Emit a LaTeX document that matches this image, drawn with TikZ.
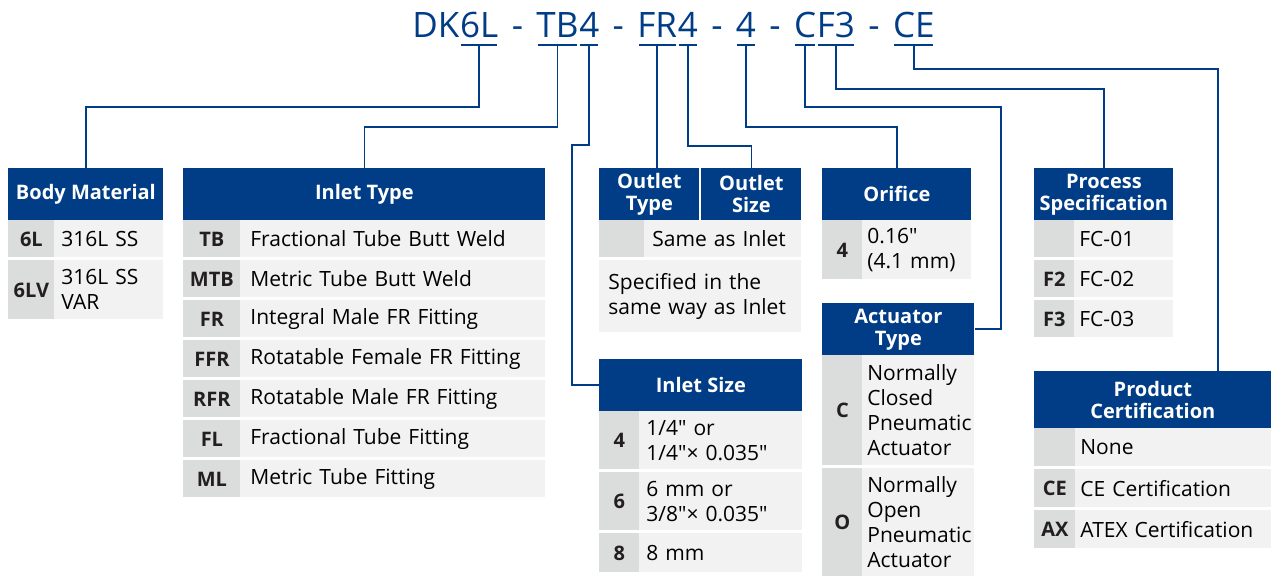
\documentclass[tikz,border=0pt]{standalone}
\usepackage{fontspec}
\setmainfont{Open Sans}[Ligatures=TeXOff]
\usetikzlibrary{positioning}
\hyphenpenalty=10000
\definecolor{PNblue}{RGB}{0,61,134}
\definecolor{KeyGray}{RGB}{219,220,220}
\definecolor{ValGray}{RGB}{242,242,242}
\definecolor{KeyText}{RGB}{35,31,32}
\tikzset{
  seg/.style={text=PNblue,font=\fontsize{17.5}{20}\selectfont,inner xsep=0pt,
              inner ysep=3.5pt,text height=12.5pt,text depth=0pt},
  uline/.style={PNblue,line width=1pt,shorten <=0.8pt,shorten >=0.8pt},
  conn/.style={PNblue,line width=0.9pt},
  hd/.style={fill=PNblue,text=white,font=\bfseries\fontsize{10}{11}\selectfont,
             align=center,anchor=north west,inner sep=0pt,minimum height=26pt},
  key/.style={fill=KeyGray,text=KeyText,font=\bfseries\fontsize{10}{12}\selectfont,
              anchor=north west,inner sep=0pt,minimum width=20pt},
  val/.style={fill=ValGray,text=black,font=\fontsize{10.5}{12.5}\selectfont,
              align=left,anchor=north west,inner ysep=0pt,inner xsep=2.5pt},
}
\begin{document}
\begin{tikzpicture}[x=0.5pt,y=-0.5pt]
  \fill[white] (0,0) rectangle (1271,576);
  \useasboundingbox (0,0) rectangle (1271,576);
  % ordering code
  \node[seg,anchor=base west] (sDK) at (412,38) {DK};
  \node[seg,base right=0pt of sDK] (s6L) {6L};
  \node[seg,base right=6.3pt of s6L] (d1) {-};
  \node[seg,base right=6.3pt of d1] (sTB) {TB};
  \node[seg,base right=0pt of sTB] (s4a) {4};
  \node[seg,base right=6.3pt of s4a] (d2) {-};
  \node[seg,base right=6.3pt of d2] (sFR) {FR};
  \node[seg,base right=0pt of sFR] (s4b) {4};
  \node[seg,base right=6.3pt of s4b] (d3) {-};
  \node[seg,base right=6.3pt of d3] (s4c) {4};
  \node[seg,base right=6.3pt of s4c] (d4) {-};
  \node[seg,base right=6.3pt of d4] (sC) {C};
  \node[seg,base right=0pt of sC] (sF3) {F3};
  \node[seg,base right=6.3pt of sF3] (d5) {-};
  \node[seg,base right=6.3pt of d5] (sCE) {CE};
  \foreach \s in {s6L,sTB,s4a,sFR,s4b,s4c,sC,sF3,sCE}
    \draw[uline] (\s.south west) -- (\s.south east);

  % body material
  \node[hd,minimum width=77.5pt] (hBody) at (8,168) {Body Material};
  \node[key,minimum width=23pt,minimum height=18.5pt] (k6L) at (8,220) {6L};
  \node[val,text width=47.5pt,inner xsep=3.5pt,minimum height=18.5pt] (v6L) at (54,220) {316L SS};
  \node[key,minimum width=23pt,minimum height=29.5pt] (k6LV) at (8,260) {6LV};
  \node[val,text width=47.5pt,inner xsep=3.5pt,minimum height=29.5pt] (v6LV) at (54,260) {316L SS\\VAR};

  % inlet type
  \node[hd,minimum width=181pt] (hInlet) at (183,168) {Inlet Type};
  \node[key,minimum width=28.5pt,minimum height=18.5pt] (kTB) at (183,220) {TB};
  \node[val,text width=142.5pt,inner xsep=5pt,minimum height=18.5pt] (vTB) at (240,220) {Fractional Tube Butt Weld};
  \node[key,minimum width=28.5pt,minimum height=18.5pt] (kMTB) at (183,260) {MTB};
  \node[val,text width=142.5pt,inner xsep=5pt,minimum height=18.5pt] (vMTB) at (240,260) {Metric Tube Butt Weld};
  \node[key,minimum width=28.5pt,minimum height=18.5pt] (kFR) at (183,300) {FR};
  \node[val,text width=142.5pt,inner xsep=5pt,minimum height=18.5pt] (vFR) at (240,300) {Integral Male FR Fitting};
  \node[key,minimum width=28.5pt,minimum height=18.5pt] (kFFR) at (183,340) {FFR};
  \node[val,text width=142.5pt,inner xsep=5pt,minimum height=18.5pt] (vFFR) at (240,340) {Rotatable Female FR Fitting};
  \node[key,minimum width=28.5pt,minimum height=18.5pt] (kRFR) at (183,380) {RFR};
  \node[val,text width=142.5pt,inner xsep=5pt,minimum height=18.5pt] (vRFR) at (240,380) {Rotatable Male FR Fitting};
  \node[key,minimum width=28.5pt,minimum height=18.5pt] (kFL) at (183,420) {FL};
  \node[val,text width=142.5pt,inner xsep=5pt,minimum height=18.5pt] (vFL) at (240,420) {Fractional Tube Fitting};
  \node[key,minimum width=28.5pt,minimum height=18.5pt] (kML) at (183,460) {ML};
  \node[val,text width=142.5pt,inner xsep=5pt,minimum height=18.5pt] (vML) at (240,460) {Metric Tube Fitting};

  % outlet
  \node[hd,minimum width=50pt] (hOType) at (599,168) {Outlet\\Type};
  \node[hd,minimum width=50pt] (hOSize) at (701,168) {Outlet\\Size};
  \node[key,minimum width=22.5pt,minimum height=18.5pt] (kSame) at (599,220) {};
  \node[val,text width=70.5pt,inner xsep=4pt,minimum height=18.5pt] (vSame) at (644,220) {Same as Inlet};
  \node[val,text width=92pt,inner xsep=4.5pt,minimum height=36pt] (vSpec) at (599,260) {Specified in the\\same way as Inlet};

  % orifice
  \node[hd,minimum width=74.5pt] (hOrif) at (822,168) {Orifice};
  \node[key,minimum height=29.5pt] (kOrif) at (822,220) {4};
  \node[val,text width=49.5pt,minimum height=29.5pt] (vOrif) at (862,220) {0.16"\\(4.1 mm)};

  % actuator type
  \node[hd,minimum width=76pt] (hAct) at (822,303) {Actuator\\Type};
  \node[key,minimum height=55pt] (kC) at (822,355) {C};
  \node[val,text width=51pt,minimum height=55pt] (vC) at (862,355) {Normally\\Closed\\Pneumatic\\Actuator};
  \node[key,minimum height=54pt] (kO) at (822,468) {O};
  \node[val,text width=51pt,minimum height=54pt] (vO) at (862,468) {Normally\\Open\\Pneumatic\\Actuator};

  % inlet size
  \node[hd,minimum width=101.5pt] (hSize) at (599,359) {Inlet Size};
  \node[key,minimum height=29pt] (kS4) at (599,411) {4};
  \node[val,text width=74.5pt,inner xsep=3.5pt,minimum height=29pt] (vS4) at (639,411) {1/4" or\\1/4"× 0.035"};
  \node[key,minimum height=29pt] (kS6) at (599,472) {6};
  \node[val,text width=74.5pt,inner xsep=3.5pt,minimum height=29pt] (vS6) at (639,472) {6 mm or\\3/8"× 0.035"};
  \node[key,minimum height=19.5pt] (kS8) at (599,533) {8};
  \node[val,text width=74.5pt,inner xsep=3.5pt,minimum height=19.5pt] (vS8) at (639,533) {8 mm};

  % process specification
  \node[hd,minimum width=69.5pt] (hProc) at (1034,168) {Process\\Specification};
  \node[key,minimum height=18.5pt] (kFC1) at (1034,220) {};
  \node[val,text width=44.5pt,minimum height=18.5pt] (vFC1) at (1074,220) {FC-01};
  \node[key,minimum height=18.5pt] (kF2) at (1034,260) {F2};
  \node[val,text width=44.5pt,minimum height=18.5pt] (vF2) at (1074,260) {FC-02};
  \node[key,minimum height=18.5pt] (kF3) at (1034,300) {F3};
  \node[val,text width=44.5pt,minimum height=18.5pt] (vF3) at (1074,300) {FC-03};

  % product certification
  \node[hd,minimum width=118.5pt,minimum height=28.5pt] (hCert) at (1034,371) {Product\\Certification};
  \node[key,minimum width=20.5pt,minimum height=19pt] (kNone) at (1034,428) {};
  \node[val,text width=93pt,minimum height=19pt] (vNone) at (1075,428) {None};
  \node[key,minimum width=20.5pt,minimum height=19pt] (kCE) at (1034,469) {CE};
  \node[val,text width=93pt,minimum height=19pt] (vCE) at (1075,469) {CE Certification};
  \node[key,minimum width=20.5pt,minimum height=19pt] (kAX) at (1034,510) {AX};
  \node[val,text width=93pt,minimum height=19pt] (vAX) at (1075,510) {ATEX Certification};

  % connectors
  \coordinate (cSize) at (572,145);
  \coordinate (cAct) at (1001,107);
  \coordinate (cCert) at (1218,69);
  \draw[conn] (s6L.south) -- ++(0,62) -| (hBody.north);
  \draw[conn] (sTB.south) -- ++(0,82) -| (hInlet.north);
  \draw[conn] (s4a.south) |- (cSize) |- (hSize.west);
  \draw[conn] (sFR.south) -- (sFR.south |- hOType.north);
  \draw[conn] (s4b.south) -- ++(0,101) -| (hOSize.north);
  \draw[conn] (s4c.south) -- ++(0,82) -| (hOrif.north);
  \draw[conn] (sC.south) |- (cAct) |- (hAct.east);
  \draw[conn] (sF3.south) -- ++(0,44) -| (hProc.north);
  \draw[conn] (sCE.south) |- (cCert) -- (cCert |- hCert.north);
\end{tikzpicture}
\end{document}
